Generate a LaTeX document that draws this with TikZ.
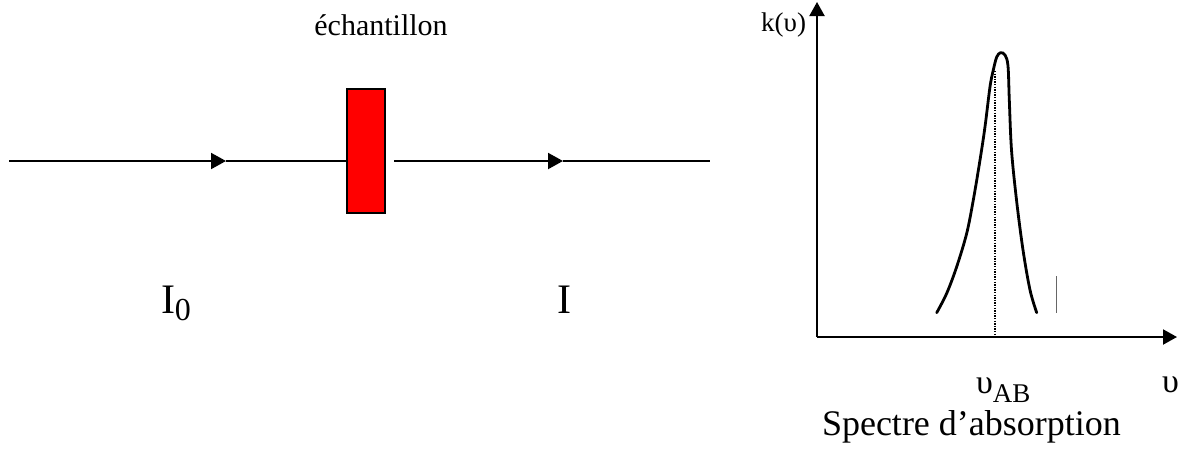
\documentclass[tikz,border=0pt]{standalone}
\usepackage{fontspec}
\setmainfont{Liberation Serif}
\usetikzlibrary{arrows.meta}
\tikzset{
  beam/.style={line width=2pt, draw=black},
  beamtip/.style={-{Triangle[length=15pt,width=16pt]}},
  axis/.style={line width=2pt, -{Triangle[length=14pt,width=15pt]}},
  samplebox/.style={draw=black, line width=2pt, fill=red, minimum width=38pt, minimum height=124pt, inner sep=0pt, outer sep=0pt},
  lbl/.style={inner sep=0pt, outer sep=0pt, anchor=base}
}
\newcommand{\fsz}[1]{\fontsize{#1}{#1}\selectfont}
\begin{document}
\begin{tikzpicture}[x=1pt,y=-1pt]
\useasboundingbox (0,0) rectangle (1185,448);
% beam
\coordinate (src) at (9,161);
\coordinate (t1) at (226,161);
\node[samplebox] (sample) at (366,151) {};
\coordinate (s1) at (347,161);
\coordinate (s2) at (394,161);
\coordinate (t2) at (563,161);
\coordinate (dst) at (710,161);
\draw[beam,beamtip] (src) -- (t1);
\draw[beam] (t1) -- (s1);
\draw[beam,beamtip] (s2) -- (t2);
\draw[beam] (t2) -- (dst);
% labels left
\node[lbl] (ech) at (381,35) {\fsz{30}échantillon};
\node[lbl, anchor=base west] (i0) at (161,313) {\fsz{42}I\raisebox{-7pt}{\fsz{32}0}};
\node[lbl, anchor=base west] (i1) at (557,313) {\fsz{42}I};
% axes
\coordinate (o) at (817,337);
\coordinate (ytip) at (817,2);
\coordinate (xtip) at (1177,337);
\draw[axis] (o) -- (ytip);
\draw[axis] (o) -- (xtip);
% peak
\draw[line width=2.8pt, line cap=round] plot[smooth, tension=0.55] coordinates {
(936.7,312.7) (946.7,293.3) (956.7,266.7) (966.7,233.3) (973.3,200) (980,160) (985,126.7)
(990,86.7) (993.3,70) (996.7,57) (1000.5,52.7) (1005,55) (1008,66) (1009.3,100)
(1011.5,150) (1016.5,200) (1023,250) (1030,290) (1036.7,312.7)};
\coordinate (pk) at (995,71);
\coordinate (pkb) at (995,336);
\draw[line width=1.2pt, dash pattern=on 1.3pt off 1.3pt] (pk) -- (pkb);
\coordinate (g1) at (1056,276);
\coordinate (g2) at (1056,313);
\draw[line width=1pt, draw=black!60] (g1) -- (g2);
% axis labels
\node[lbl, anchor=base east] (ky) at (806,31) {\fsz{27}k(υ)};
\node[lbl, anchor=base west] (nab) at (976,393) {\fsz{34}υ\raisebox{-9pt}{\fsz{27}AB}};
\node[lbl, anchor=base west] (nu) at (1162,392) {\fsz{34}υ};
\node[lbl, anchor=base west] (spec) at (822,435) {\fsz{36}Spectre d’absorption};
\end{tikzpicture}
\end{document}
